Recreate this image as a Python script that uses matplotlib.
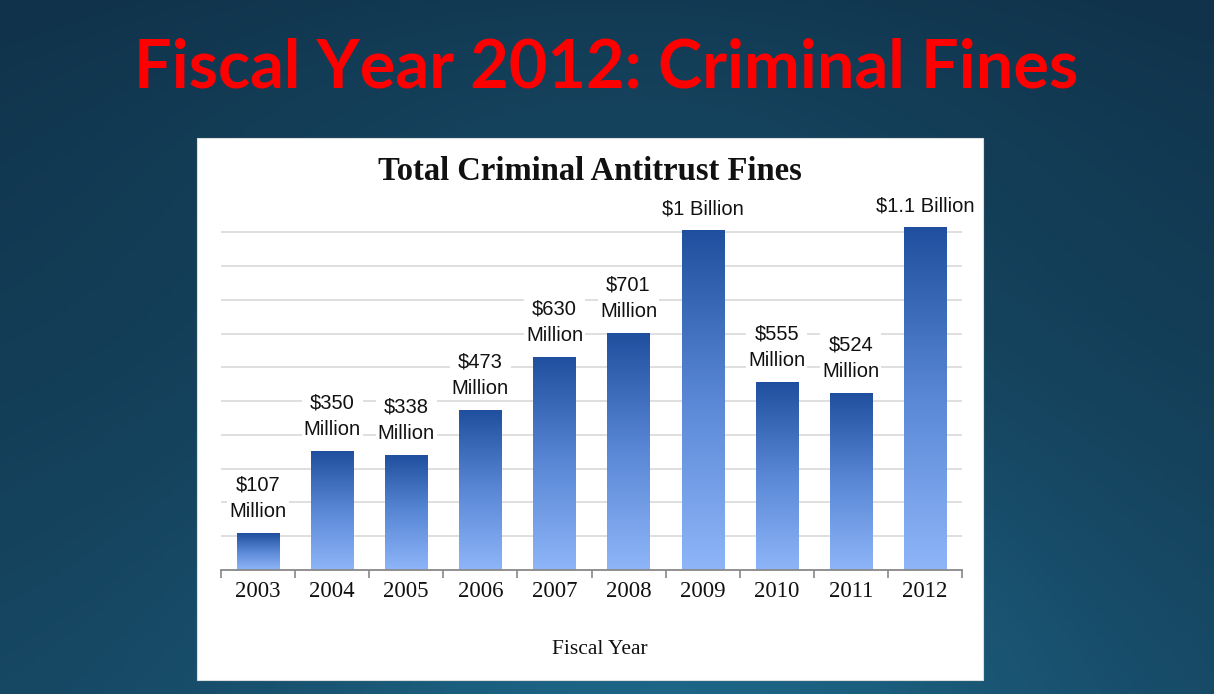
import numpy as np
import matplotlib
matplotlib.use("Agg")
import matplotlib.pyplot as plt
from matplotlib.colors import LinearSegmentedColormap
from matplotlib.patches import Rectangle

# data (bar heights in $ million)
years = ["2003", "2004", "2005", "2006", "2007", "2008", "2009", "2010", "2011", "2012"]
fines = [107, 350, 338, 473, 630, 701, 1005, 555, 524, 1014]
labels = ["$107\nMillion", "$350\nMillion", "$338\nMillion", "$473\nMillion",
          "$630\nMillion", "$701\nMillion", "$1 Billion", "$555\nMillion",
          "$524\nMillion", "$1.1 Billion"]

W, H = 1214, 694
fig = plt.figure(figsize=(W / 100, H / 100), dpi=100)

# slide background: dark teal gradient, a bit lighter in the middle and bottom
bg = fig.add_axes([0, 0, 1, 1], zorder=-10)
yy, xx = np.mgrid[0:1:200j, 0:1:350j]
t = 0.35 * yy + 0.45 * np.exp(-((xx - 0.55) ** 2 / 0.12 + (yy - 0.95) ** 2 / 0.25)) \
    + 0.2 * np.exp(-((xx - 0.5) ** 2 / 0.2 + (yy - 0.15) ** 2 / 0.1))
t = (t - t.min()) / (t.max() - t.min())
bg_cmap = LinearSegmentedColormap.from_list("bg", ["#10324a", "#174a66", "#1d6586"])
bg.imshow(t, cmap=bg_cmap, aspect="auto", extent=[0, 1, 0, 1], origin="upper")
bg.set_axis_off()

fig.text(606 / W, 1 - 68 / H, "Fiscal Year 2012: Criminal Fines", color="#ff0000",
         fontsize=48, fontweight="bold", family="Lato",
         ha="center", va="center")

# white chart panel
fig.patches.append(Rectangle((197 / W, 14 / H), 786 / W, 542 / H, transform=fig.transFigure,
                             facecolor="white", edgecolor="#dddddd", lw=0.8, zorder=-5))

fig.text(590 / W, 1 - 171 / H, "Total Criminal Antitrust Fines", color="#111111",
         fontsize=23.5, fontweight="bold", family="Liberation Serif", ha="center", va="center")

ax = fig.add_axes([221 / W, 124 / H, 741 / W, 344.4 / H], zorder=1)
ax.set_facecolor("none")

bar_cmap = LinearSegmentedColormap.from_list("bar", ["#8eb5f8", "#5a88d6", "#1f4f9e"])
grad = np.linspace(0, 1, 256).reshape(-1, 1)
bw = 0.57
x = np.arange(len(years))
for i, v in enumerate(fines):
    ax.imshow(grad, cmap=bar_cmap, aspect="auto", origin="lower",
              extent=[x[i] - bw / 2, x[i] + bw / 2, 0, v], zorder=2, clip_on=False)
    ax.annotate(labels[i], (x[i], v), xytext=(0, 9), textcoords="offset points",
                ha="center", va="bottom", fontsize=14.5, family="Liberation Sans",
                color="#111111", linespacing=1.5, zorder=3,
                bbox=dict(facecolor="white", edgecolor="none", pad=1.5))

ax.set_xlim(-0.5, len(years) - 0.5)
ax.set_ylim(0, 1020)
ax.set_yticks(np.arange(100, 1001, 100))
ax.yaxis.grid(True, color="#dcdcdc", lw=1.3)
ax.set_axisbelow(True)
ax.tick_params(axis="y", length=0, labelleft=False)

ax.set_xticks(x)
ax.set_xticklabels(years, family="Liberation Serif", fontsize=16.5, color="#111111")
ax.set_xticks(np.arange(-0.5, len(years), 1), minor=True)
ax.tick_params(axis="x", which="major", length=0, pad=8)
ax.tick_params(axis="x", which="minor", length=6, width=1.2, color="#888888", direction="out")
for s in ["top", "right", "left"]:
    ax.spines[s].set_visible(False)
ax.spines["bottom"].set_color("#888888")
ax.spines["bottom"].set_linewidth(1.3)

fig.text(600 / W, 1 - 649 / H, "Fiscal Year", color="#111111", fontsize=15.5,
         family="Liberation Serif", ha="center", va="center")

fig.savefig("out.png", dpi=100)
